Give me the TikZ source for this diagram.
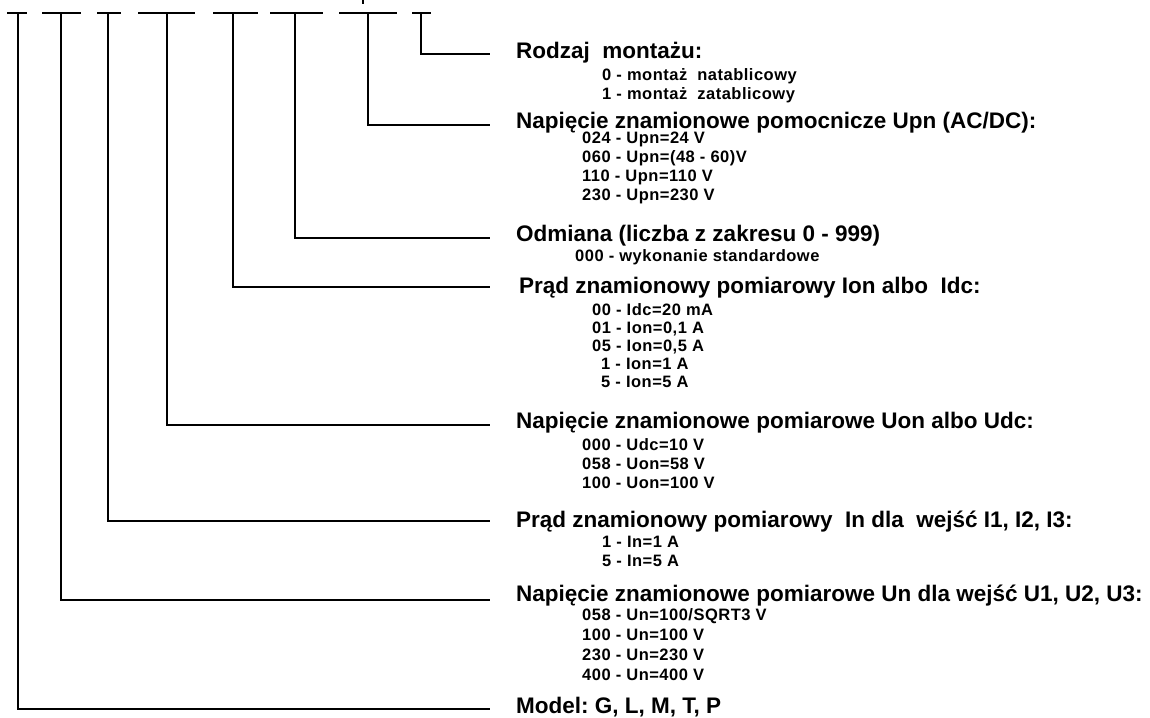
\documentclass[tikz,border=0pt]{standalone}
\usepackage{fontspec}
\setmainfont{Liberation Sans}
\newfontfamily\itemfamily[LetterSpace=3]{Liberation Sans}
\newcommand\codehead{\fontsize{22.5}{27}\selectfont\bfseries}
\newcommand\codeitem{\itemfamily\fontsize{16.5}{19}\selectfont\bfseries}
\usepackage{tikz}
\tikzset{>=latex}
\tikzset{
    head/.style={anchor=base west, inner sep=0, font=\codehead},
    item/.style={anchor=base west, inner sep=0, font=\codeitem},
    link/.style={line width=2pt}
}

\begin{document}
\frenchspacing
\begin{tikzpicture}[x=1pt, y=-1pt]
    \useasboundingbox(0, 0)rectangle(1150, 717);
    \draw[link](7, 13)--(27, 13);
    \draw[link](42, 13)--(81, 13);
    \draw[link](97, 13)--(121, 13);
    \draw[link](138, 13)--(195, 13);
    \draw[link](213, 13)--(258, 13);
    \draw[link](270, 13)--(323, 13);
    \draw[link](339, 13)--(397, 13);
    \draw[link](412, 13)--(431, 13);
    \draw[link](363, 0)--(363, 4);
    \coordinate(tmodel)at(18, 13);
    \coordinate(tun)at(61, 13);
    \coordinate(tin)at(108, 13);
    \coordinate(tuon)at(167, 13);
    \coordinate(tion)at(233, 13);
    \coordinate(todm)at(295, 13);
    \coordinate(tupn)at(368, 13);
    \coordinate(tmont)at(421, 13);
    \coordinate(emont)at(490, 54);
    \coordinate(eupn)at(490, 125);
    \coordinate(eodm)at(490, 238);
    \coordinate(eion)at(490, 287);
    \coordinate(euon)at(490, 425);
    \coordinate(ein)at(490, 521);
    \coordinate(eun)at(490, 600);
    \coordinate(emodel)at(490, 709);
    \draw[link](tmont)|-(emont);
    \draw[link](tupn)|-(eupn);
    \draw[link](todm)|-(eodm);
    \draw[link](tion)|-(eion);
    \draw[link](tuon)|-(euon);
    \draw[link](tin)|-(ein);
    \draw[link](tun)|-(eun);
    \draw[link](tmodel)|-(emodel);
    \node[head](hmont)at(516, 59){Rodzaj\ \ montażu:};
    \node[item](mont0)at(602, 80.5){0 - montaż\ \ natablicowy};
    \node[item](mont1)at(602, 99.5){1 - montaż\ \ zatablicowy};
    \node[head](hupn)at(516, 128){Napięcie znamionowe pomocnicze Upn (AC/DC):};
    \node[item](upn1)at(582, 143.5){024 - Upn=24 V};
    \node[item](upn2)at(582, 162.5){060 - Upn=(48 - 60)V};
    \node[item](upn3)at(582, 181.5){110 - Upn=110 V};
    \node[item](upn4)at(582, 200.5){230 - Upn=230 V};
    \node[head](hodm)at(516, 241){Odmiana (liczba z zakresu 0 - 999)};
    \node[item](odm1)at(575, 261.5){000 - wykonanie standardowe};
    \node[head](hion)at(519, 293){Prąd znamionowy pomiarowy Ion albo\ \ Idc:};
    \node[item](ion1)at(592, 315.5){00 - Idc=20 mA};
    \node[item](ion2)at(592, 333.5){01 - Ion=0,1 A};
    \node[item](ion3)at(592, 351.5){05 - Ion=0,5 A};
    \node[item](ion4)at(601, 369.5){1 - Ion=1 A};
    \node[item](ion5)at(601, 387.5){5 - Ion=5 A};
    \node[head](huon)at(516, 428){Napięcie znamionowe pomiarowe Uon albo Udc:};
    \node[item](uon1)at(582, 450.5){000 - Udc=10 V};
    \node[item](uon2)at(582, 469.5){058 - Uon=58 V};
    \node[item](uon3)at(582, 488.5){100 - Uon=100 V};
    \node[head](hin)at(516, 527){Prąd znamionowy pomiarowy\ \ In dla\ \ wejść I1, I2, I3:};
    \node[item](in1)at(602, 547.5){1 - In=1 A};
    \node[item](in2)at(602, 566.5){5 - In=5 A};
    \node[head](hun)at(516, 601){Napięcie znamionowe pomiarowe Un dla wejść U1, U2, U3:};
    \node[item](un1)at(582, 620.5){058 - Un=100/SQRT3 V};
    \node[item](un2)at(582, 640.5){100 - Un=100 V};
    \node[item](un3)at(582, 660.5){230 - Un=230 V};
    \node[item](un4)at(582, 680.5){400 - Un=400 V};
    \node[head](hmodel)at(516, 713){Model: G, L, M, T, P};
\end{tikzpicture}
\end{document}
